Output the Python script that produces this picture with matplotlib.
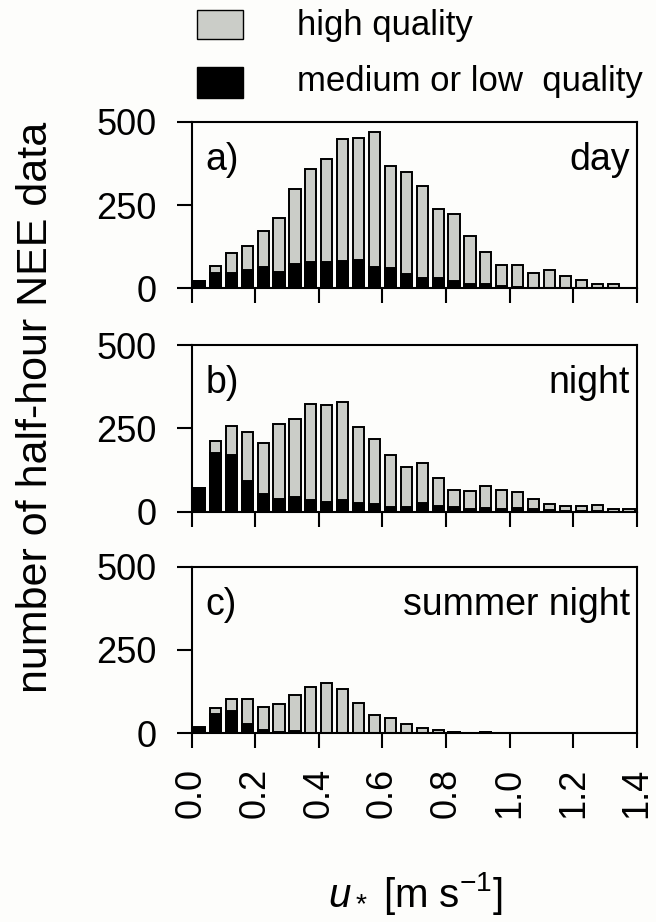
import numpy as np
import matplotlib.pyplot as plt
from matplotlib.patches import Rectangle

plt.rcParams['font.family'] = ['Liberation Sans', 'DejaVu Sans']
plt.rcParams['mathtext.fontset'] = 'custom'
plt.rcParams['mathtext.rm'] = 'Liberation Sans'
plt.rcParams['mathtext.it'] = 'Liberation Sans:italic'

# bin centres of u* classes (0.05 wide)
ustar = np.arange(0.025, 1.40, 0.05)

# total counts and medium/low quality counts per class
day_total = [22, 66, 105, 128, 173, 210, 298, 357, 389, 448, 450, 470, 368, 348,
             306, 239, 224, 156, 110, 71, 71, 46, 54, 38, 25, 12, 12]
day_low = [22, 46, 46, 55, 64, 49, 73, 79, 79, 82, 85, 64, 61, 43,
           31, 31, 22, 13, 13, 7, 4, 2, 2, 1, 0, 0, 0]

night_total = [72, 213, 257, 240, 206, 262, 279, 322, 319, 330, 254, 217, 169, 135,
               146, 102, 66, 61, 76, 64, 59, 38, 24, 17, 17, 19, 8, 8]
night_low = [72, 177, 170, 92, 53, 38, 45, 35, 29, 35, 26, 23, 14, 14,
             26, 17, 14, 8, 11, 8, 11, 8, 5, 2, 2, 2, 0, 0]

summer_total = [20, 76, 102, 102, 79, 87, 115, 140, 152, 132, 92, 56, 47, 27,
                16, 10, 4, 0, 4]
summer_low = [15, 59, 68, 29, 10, 3, 7, 2, 0, 0, 0, 0, 0, 0,
              0, 0, 4, 0, 4]

panels = [('a)', 'day', day_total, day_low),
          ('b)', 'night', night_total, night_low),
          ('c)', 'summer night', summer_total, summer_low)]

gray = '#cbcdc8'
fs = 26

fig = plt.figure(figsize=(6.56, 9.22), dpi=100, facecolor='#fdfdfb')
bottoms = [0.6873, 0.445, 0.2047]
axes = []
for (lab, name, tot, low), b in zip(panels, bottoms):
    ax = fig.add_axes([0.292, b, 0.679, 0.1807])
    ax.set_facecolor('#fdfdfb')
    n = len(tot)
    x = ustar[:n]
    ax.bar(x, tot, width=0.035, color=gray, edgecolor='black', linewidth=1.4)
    ax.bar(x, low, width=0.035, color='black', edgecolor='black', linewidth=1.4)
    ax.set_xlim(0, 1.4)
    ax.set_ylim(0, 500)
    ax.set_yticks([0, 250, 500])
    ax.set_xticks(np.arange(0, 1.41, 0.2))
    ax.tick_params(direction='out', length=11, width=1.5, pad=14, labelsize=fs)
    for s in ax.spines.values():
        s.set_linewidth(1.5)
    ax.text(0.032, 0.71, lab, transform=ax.transAxes, fontsize=27, va='baseline', ha='left')
    ax.text(0.984, 0.71, name, transform=ax.transAxes, fontsize=27, va='baseline', ha='right')
    axes.append(ax)

for ax in axes[:-1]:
    ax.set_xticklabels([])
axes[-1].set_xticklabels([f'{v:.1f}' for v in np.arange(0, 1.41, 0.2)], rotation=90)

fig.text(0.633, 1 - 893 / 922, r'$u_*$ [m s$^{-1}$]', fontsize=29, ha='center', va='center')

fig.text(0.055, 0.558, 'number of half-hour NEE data', rotation=90, fontsize=31,
         ha='center', va='center')

# legend
fig.add_artist(Rectangle((0.300, 1 - 39 / 922), 0.070, 29 / 922, transform=fig.transFigure,
                         facecolor=gray, edgecolor='black', linewidth=1.0))
fig.add_artist(Rectangle((0.300, 1 - 97.7 / 922), 0.070, 31 / 922, transform=fig.transFigure,
                         facecolor='black', edgecolor='black', linewidth=1.0))
fig.text(0.452, 1 - 25 / 922, 'high quality', fontsize=25, va='center', ha='left')
fig.text(0.452, 1 - 82 / 922, 'medium or low  quality', fontsize=25, va='center', ha='left')

fig.savefig('out.png', dpi=100, facecolor=fig.get_facecolor())
